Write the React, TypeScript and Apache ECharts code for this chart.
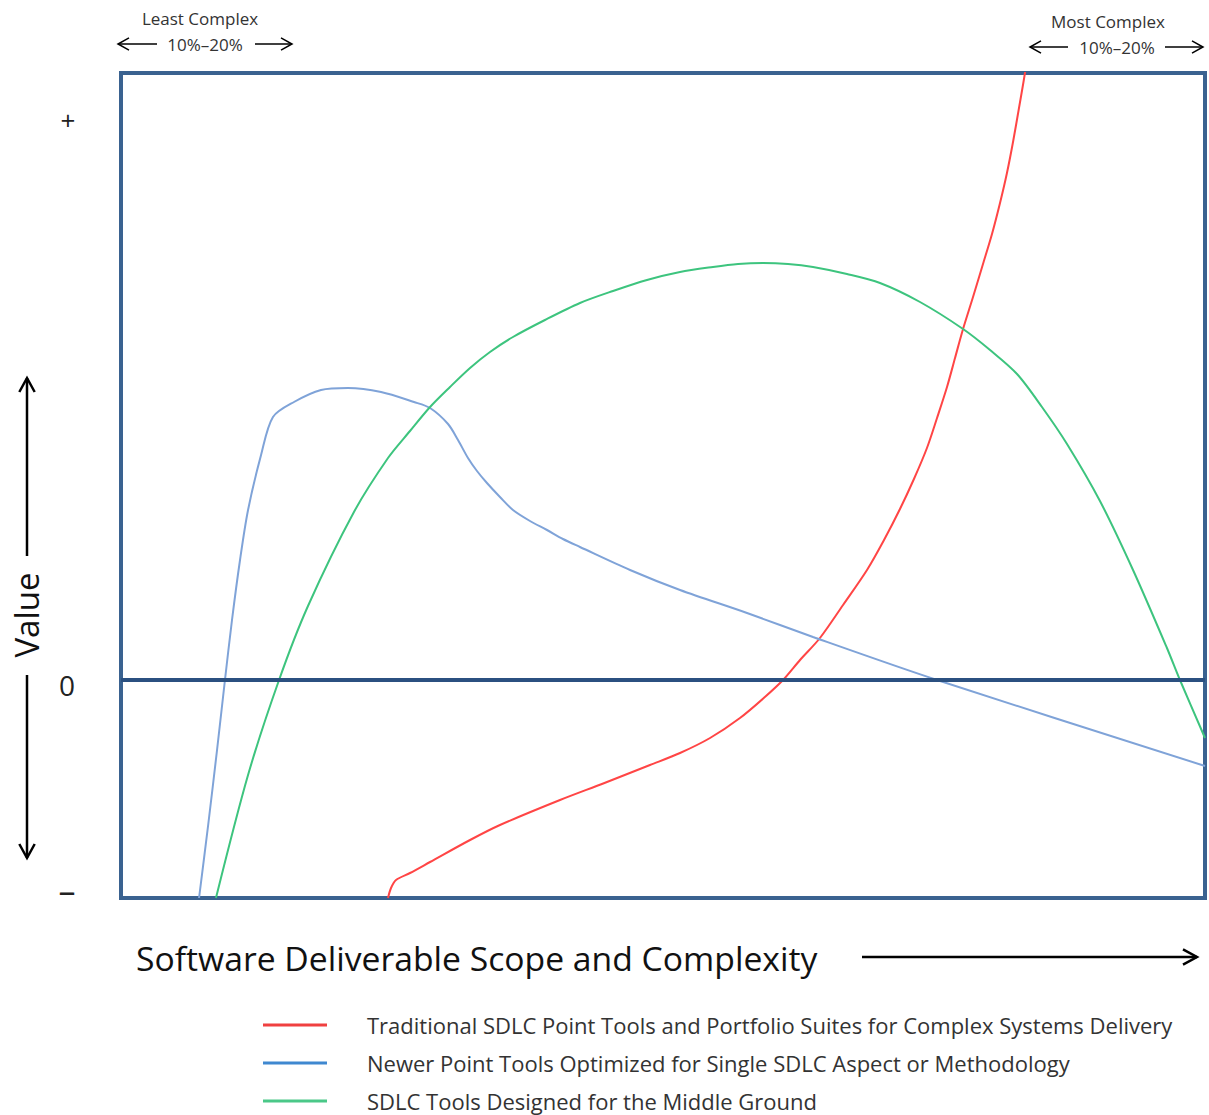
import React, { useEffect, useRef } from "react";
import * as echarts from "echarts";

// x: 0..100 (scope / complexity), y: value (0 = break-even)
const redSeries: [number, number][] = [
  [24.63, -21.8], [24.91, -20.8], [25.37, -20.0], [26.66, -19.3], [28.51, -18.2],
  [32.2, -16.0], [34.96, -14.5], [40.5, -12.0], [44.6, -10.3], [48.8, -8.5],
  [51.57, -7.3], [54.34, -5.8], [57.1, -3.8], [59.4, -1.7], [61.07, 0],
  [62.64, 2.0], [64.48, 4.2], [66.61, 7.5], [68.82, 11.0], [70.39, 14.0],
  [71.86, 17.1], [73.15, 20.1], [74.35, 23.2], [75.28, 26.2], [76.2, 29.3],
  [76.94, 32.2], [77.68, 35.1], [78.6, 38.3], [79.52, 41.6], [80.35, 44.6],
  [81.09, 47.7], [81.73, 50.7], [82.29, 53.8], [82.84, 57.2], [83.39, 60.7],
  [83.95, 65.0],
];
const blueSeries: [number, number][] = [
  [7.2, -21.8], [8.03, -14.6], [8.86, -7.0], [9.59, 0], [10.24, 6.0],
  [10.98, 12.0], [11.72, 17.0], [12.92, 22.5], [14.02, 26.3], [15.96, 27.8],
  [18.45, 29.0], [20.94, 29.2], [23.99, 28.8], [27.03, 27.8], [28.51, 27.2],
  [30.17, 25.6], [31.09, 24.0], [32.01, 22.2], [32.84, 20.9], [33.76, 19.7],
  [34.96, 18.3], [36.16, 17.0], [37.73, 15.9], [39.3, 15.0], [40.77, 14.1],
  [42.34, 13.3], [46.96, 11.0], [51.57, 9.0], [57.75, 6.7], [63.84, 4.3],
  [75.28, 0], [100, -8.6],
];
const greenSeries: [number, number][] = [
  [8.76, -21.8], [11.72, -9.5], [14.58, 0], [17.25, 7.4], [21.49, 16.8],
  [24.63, 22.2], [26.66, 24.9], [28.51, 27.3], [30.35, 29.3], [32.2, 31.2],
  [34.04, 32.8], [36.16, 34.3], [39.11, 36.0], [42.34, 37.7], [45.39, 38.9],
  [48.52, 40.0], [51.57, 40.8], [54.61, 41.3], [56.92, 41.6], [59.23, 41.7],
  [61.53, 41.6], [63.84, 41.3], [66.97, 40.6], [70.02, 39.7], [73.71, 37.8],
  [77.68, 35.1], [80.17, 33.0], [82.66, 30.6], [84.96, 27.3], [87.27, 23.6],
  [90.31, 17.9], [93.36, 11.0], [96.49, 3.2], [97.69, 0], [100, -5.8],
];
const seriesNames = [
  "Traditional SDLC Point Tools and Portfolio Suites for Complex Systems Delivery",
  "Newer Point Tools Optimized for Single SDLC Aspect or Methodology",
  "SDLC Tools Designed for the Middle Ground",
];
const yTickLabels = ["+", "0", "–"];
const xTitle = "Software Deliverable Scope and Complexity";
const yTitle = "Value";
const leftNote = ["Least Complex", "10%–20%"];
const rightNote = ["Most Complex", "10%–20%"];

const FONT = "'Open Sans'";

function arrow(x1: number, y1: number, x2: number, y2: number, w: number, head: number) {
  const dx = x2 - x1, dy = y2 - y1;
  const len = Math.sqrt(dx * dx + dy * dy);
  const ux = dx / len, uy = dy / len;
  const px = -uy, py = ux;
  const hb = head * 0.55;
  return [
    { type: "line", shape: { x1, y1, x2, y2 }, style: { stroke: "#000", lineWidth: w } },
    {
      type: "polyline",
      shape: {
        points: [
          [x2 - ux * head + px * hb, y2 - uy * head + py * hb],
          [x2, y2],
          [x2 - ux * head - px * hb, y2 - uy * head - py * hb],
        ],
      },
      style: { stroke: "#000", lineWidth: w, fill: null },
    },
  ];
}

export default function App() {
  const ref = useRef<HTMLDivElement>(null);
  useEffect(() => {
    document.body.style.margin = "0";
    const chart = echarts.init(ref.current!, null, { renderer: "svg" });
    const colors = ["#ff4545", "#7fa3d8", "#3dc47e"];
    const legendColors = ["#f04040", "#3f88d0", "#4ac888"];
    const mk = (name: string, data: [number, number][], i: number) => ({
      name,
      type: "line",
      data,
      smooth: 0.3,
      showSymbol: false,
      symbol: "none",
      clip: true,
      lineStyle: { color: colors[i], width: 2 },
      itemStyle: { color: legendColors[i] },
      z: 3,
    });
    const txt = (t: string, x: number, y: number, size: number, fill = "#333", align = "center") => ({
      type: "text", x, y,
      style: { text: t, font: `${size}px ${FONT}`, fill, textAlign: align, textVerticalAlign: "middle" },
    });
    const graphics: any[] = [
      txt(yTickLabels[0], 68, 120, 26, "#222"),
      txt(yTickLabels[1], 67, 685, 28, "#222"),
      txt(yTickLabels[2], 67, 890, 34, "#222"),
      { type: "text", x: 26, y: 615, rotation: Math.PI / 2, style: { text: yTitle, font: `33px ${FONT}`, fill: "#111", textAlign: "center", textVerticalAlign: "middle" } },
      ...arrow(27, 556, 27, 378, 2.5, 14),
      ...arrow(27, 675, 27, 858, 2.5, 14),
      txt(xTitle, 136, 958, 33.7, "#111", "left"),
      ...arrow(862, 957, 1197, 957, 2.5, 14),
      txt(leftNote[0], 200, 18, 17),
      txt(leftNote[1], 205, 44, 17),
      ...arrow(157, 44, 118, 44, 1.5, 11),
      ...arrow(255, 44, 292, 44, 1.5, 11),
      txt(rightNote[0], 1108, 21, 17),
      txt(rightNote[1], 1117, 47, 17),
      ...arrow(1068, 47, 1030, 47, 1.5, 11),
      ...arrow(1165, 47, 1203, 47, 1.5, 11),
    ];
    chart.setOption({
      animation: false,
      backgroundColor: "#fff",
      grid: {
        left: 121, top: 73, right: 4, bottom: 217,
        show: true, borderColor: "#3a6290", borderWidth: 4, backgroundColor: "transparent",
      },
      xAxis: {
        type: "value", min: 0, max: 100,
        axisLine: { show: false }, axisTick: { show: false }, axisLabel: { show: false }, splitLine: { show: false },
      },
      yAxis: {
        type: "value", min: -21.8, max: 60.7,
        axisLine: { show: false }, axisTick: { show: false }, axisLabel: { show: false }, splitLine: { show: false },
      },
      legend: {
        orient: "vertical", left: 263, top: 1013, padding: 0, height: 110,
        icon: "rect", itemWidth: 64, itemHeight: 3, itemGap: 14,
        data: seriesNames,
        textStyle: { fontFamily: "Open Sans", fontSize: 22, color: "#333", lineHeight: 24, padding: [0, 0, 0, 35] },
        selectedMode: false,
      },
      series: [
        mk(seriesNames[0], redSeries, 0),
        mk(seriesNames[1], blueSeries, 1),
        {
          ...mk(seriesNames[2], greenSeries, 2),
          markLine: {
            silent: true, symbol: "none", label: { show: false },
            lineStyle: { color: "#2b5080", width: 4, type: "solid" },
            data: [{ yAxis: 0 }],
            z: 5,
          },
        },
      ],
      graphic: graphics,
    });
    return () => chart.dispose();
  }, []);
  return <div ref={ref} style={{ width: 1209, height: 1115 }} />;
}
